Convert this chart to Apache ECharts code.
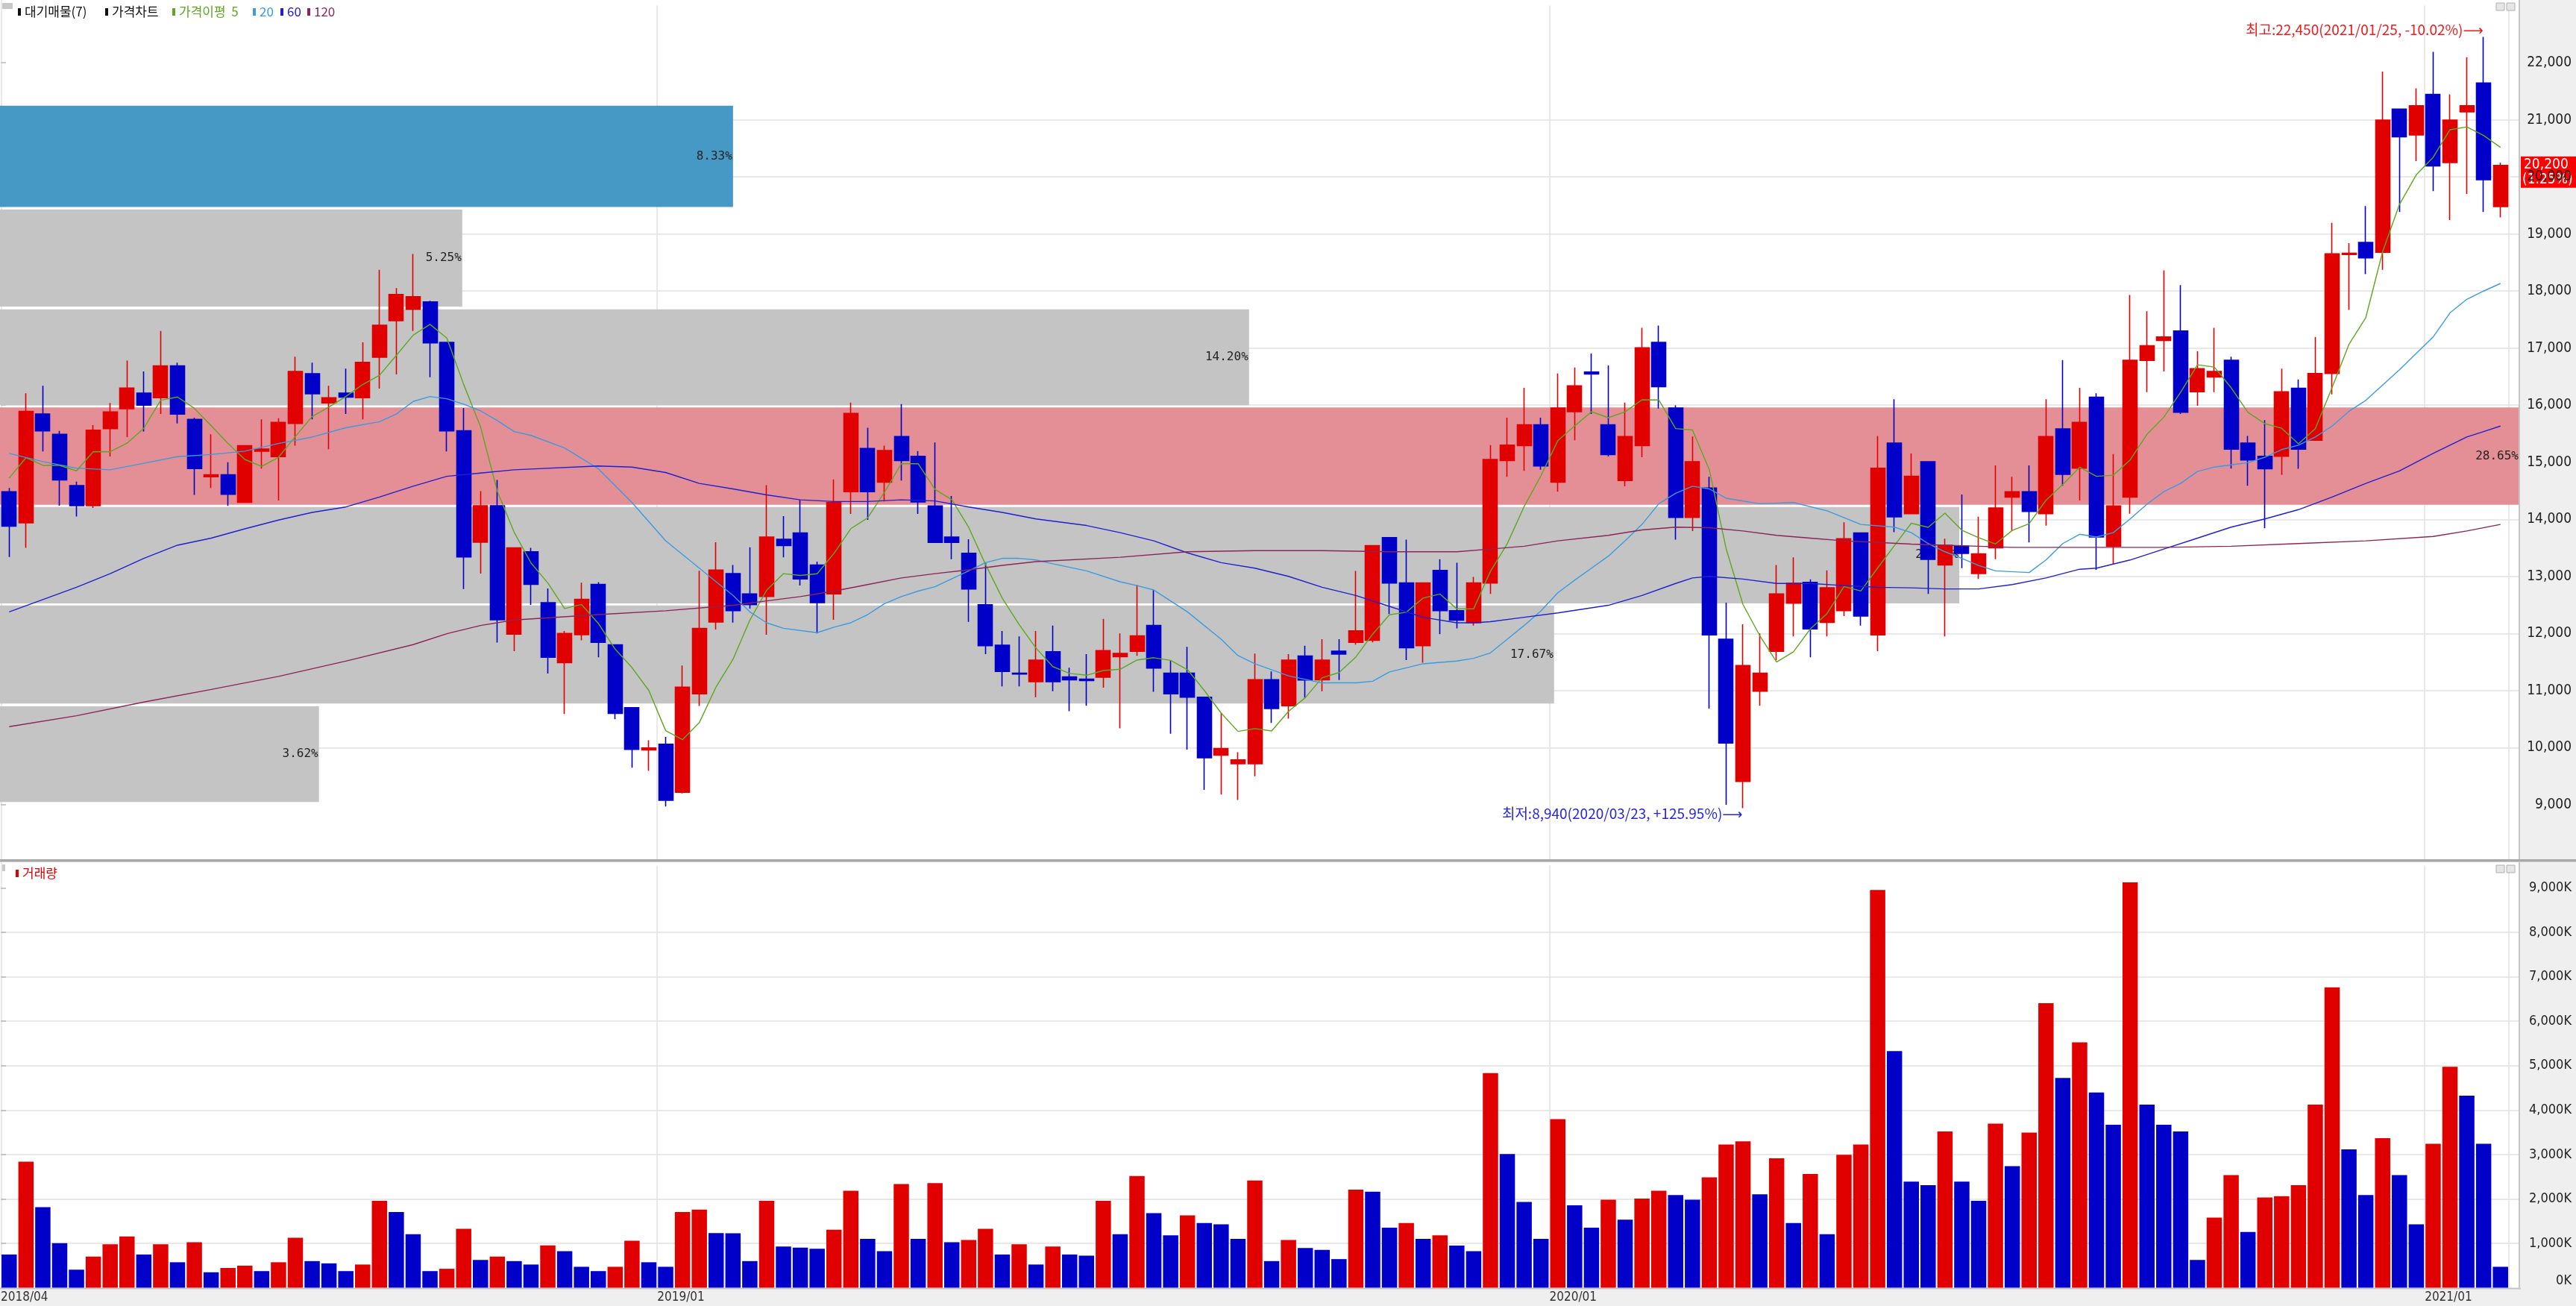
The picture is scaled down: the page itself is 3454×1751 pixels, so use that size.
<!DOCTYPE html>
<html>
<head>
<meta charset="utf-8">
<title>주간 가격차트</title>
<script src="https://cdn.jsdelivr.net/npm/echarts@6/dist/echarts.min.js"></script>
<style>
  html, body { margin: 0; padding: 0; background: #efefef; }
  #chart { width: 3454px; height: 1751px; }
</style>
</head>
<body>
<div id="chart"></div>
<script>
// ---- weekly categories (first trading day of each week) ----
const firstWeek = [2018, 4, 2];
const weekCount = 149;
const holidayShift = { '2018/12/31': '2019/01/02' };

// ---- weekly OHLC ----
const open = [14485,13940,15845,15490,14590,14240,15590,15940,16210,16130,16690,15750,14745,14780,14300,15195,15100,15680,16550,16040,16210,16130,16840,17480,17680,17810,17100,15550,13600,14240,
  11990,13430,12540,11490,11980,12860,11800,10700,9960,10060,9220,10945,12200,13050,12695,12650,13650,13760,13200,12695,14485,15240,14650,15450,15105,14235,13690,13405,12505,11795,
  11305,11155,11680,11240,11200,11235,11595,11690,12140,11305,11305,10885,9870,9720,9720,11190,10735,11605,11190,11690,11845,11880,13680,12885,11785,13105,12400,12190,12885,15030,
  15290,15655,14650,15885,16580,15655,14680,15290,17100,15950,14035,14550,11900,9410,10990,11690,12530,12895,12195,12400,13760,11975,15335,14100,15010,13200,13530,13050,13500,14390,
  14485,14100,15585,14895,16140,13530,14390,16785,17135,17300,16235,16495,16785,15335,15105,15105,16295,15385,16555,18640,18850,18680,21185,20735,21445,20250,21140,21645,19480];
const close = [13880,15890,15550,14690,14240,15560,15880,16300,16000,16690,15845,14890,14780,14440,15290,15230,15700,16590,16200,16130,16140,16750,17400,17940,17900,17090,15550,13340,14240,12240,
  13500,12860,11585,12000,12600,11845,10600,9970,9995,9080,11060,12090,13110,12400,12505,13690,13540,12955,12540,14295,15855,14485,15205,15030,14305,13595,13595,12780,11785,11335,
  11290,11535,11155,11190,11175,11700,11650,11960,11395,10945,10885,9825,9985,9785,11190,10685,11535,11185,11535,11640,12045,13540,12885,11750,12885,12400,12235,12885,15050,15300,
  15655,14935,15950,16340,16545,15135,15450,17005,16325,14035,15010,11975,10080,11440,11305,12695,12880,12080,12800,13660,12305,14895,14045,14755,13300,13545,13405,13395,14200,14485,
  14140,15450,14790,15700,13690,14235,16785,17040,17195,15875,16640,16590,15230,15040,14885,16235,15230,16555,18650,18660,18580,20995,20700,21245,20190,20995,21245,19950,20200];
const low = [13340,13500,15190,14240,14050,14200,15100,15440,15540,15845,15680,14430,14550,14236,14300,14890,14330,15290,15750,15230,15845,15750,16290,16540,17300,16490,15190,12780,13050,11840,
  11690,12500,11300,10590,11880,11585,10500,9650,9595,8970,9200,10730,12070,12190,12435,11980,13335,12840,12000,12240,14095,13990,14315,14680,14095,13590,13300,12205,11640,11075,
  11075,10885,10990,10640,10733,11050,10340,11610,10980,10245,9965,9260,9180,9085,9500,10435,10510,10875,10990,11185,11805,11845,12340,11535,11490,11990,12090,12140,12695,14745,
  14850,14870,14485,15385,15845,15100,14580,15090,15940,13645,13795,10685,9000,8940,10735,11535,11950,11585,11950,12305,12140,11690,13775,14100,12695,11950,13145,12955,13300,13795,
  13595,13890,14590,14330,13115,13210,14100,16230,16590,15845,15990,16230,14890,14590,13845,14780,14885,15380,16190,17670,18295,18370,19385,20275,19750,19245,19700,19385,19290];
const high = [14550,16210,16340,15550,14660,15650,16040,16780,16590,17300,16745,15780,15490,15000,15300,15750,15770,16850,16745,16340,16640,17100,18370,18050,18650,17830,17100,15950,14495,14690,
  13500,13500,12790,12045,12890,12900,11800,10700,10130,10190,11440,13100,13600,13200,13510,14600,14055,14340,13260,14700,16045,15605,15290,16020,15195,15345,14410,13650,13240,12045,
  11950,12045,12140,11400,11640,12255,12000,12850,12760,11520,11765,10890,10610,9920,11650,11335,11640,11785,11900,11900,13095,13540,13680,13645,12890,13300,13240,12990,15300,15780,
  16305,15780,16555,16660,16905,16695,16045,17355,17395,15995,15450,14745,12540,12160,12000,13200,13335,12950,13105,13950,13760,15460,16105,15155,15015,13660,14435,14045,14945,14745,
  14945,16105,16790,16305,16210,15145,17930,17645,18360,18105,16945,17355,16850,15460,15740,16640,16450,17195,19195,18840,19490,21845,21190,21550,22190,21445,22095,22450,20250];

// ---- weekly volume (thousand shares) ----
const volume = [752,2841,1819,1009,411,707,983,1157,752,983,578,1028,353,450,501,379,578,1131,604,553,379,527,1960,1710,1208,379,431,1330,630,707,
  604,527,958,829,476,379,476,1060,578,476,1710,1761,1234,1230,604,1960,932,906,880,1311,2185,1105,829,2339,1105,2359,1028,1080,1330,752,
  983,527,932,752,726,1960,1208,2519,1684,1183,1632,1459,1433,1105,2416,604,1080,900,855,649,2211,2166,1356,1459,1105,1183,951,829,4833,3014,
  1934,1105,3798,1857,1356,1986,1536,2012,2185,2089,1986,2487,3226,3297,2108,2918,1459,2564,1208,2995,3226,8952,5328,2391,2314,3522,2391,1960,3695,2738,
  3496,6407,4724,5527,4396,3670,9126,4126,3670,3522,630,1581,2539,1260,2037,2063,2314,4126,6761,3117,2089,3368,2539,1433,3245,4974,4325,3245,476];

// ---- moving averages ----
const ma5Head = [14724, 15079, 14945, 14945];
const ma20Pts = [[0,15155],[2,15012],[4,14897],[6,14868],[8,14983],[10,15098],[12,15136],[14,15194],[16,15328],[18,15442],[20,15605],[22,15711],[23,15845],[24,16065],[25,16151],[26,16113],[27,16017],[28,15902],[29,15730],[30,15538],
  [31,15471],[33,15251],[35,14887],[37,14294],[39,13624],[41,13145],[43,12667],[44,12379],[45,12188],[46,12092],[48,12015],[49,12111],[50,12188],[51,12331],[52,12523],[53,12647],[54,12743],[55,12819],[57,13097],[58,13241],[59,13317],[60,13317],[61,13288],
  [62,13221],[64,13097],[66,12906],[67,12839],[68,12762],[70,12379],[72,11900],[73,11613],[74,11470],[76,11259],[78,11135],[80,11135],[81,11164],[82,11327],[84,11470],[86,11518],[87,11566],[88,11661],[89,11900],[90,12140],[91,12398],[92,12714],
  [93,12934],[94,13145],[95,13355],[96,13624],[97,13911],[98,14274],[99,14456],[100,14581],[101,14533],[102,14370],[104,14274],[106,14294],[108,14150],[110,13911],[112,13863],[113,13767],[114,13576],[115,13432],[116,13317],[117,13193],[118,13097],[120,13068],[121,13288],[122,13576],[123,13739],
  [124,13691],[125,13767],[126,14007],[127,14266],[128,14485],[129,14629],[130,14839],[131,14916],[132,14954],[133,14992],[134,15088],[135,15222],[136,15299],[137,15442],[138,15634],[139,15893],[140,16084],[141,16352],[142,16620],[143,16907],[144,17194],[145,17616],[146,17855],[147,17999],[148,18133]];
const ma60Pts = [[0,12379],[4,12810],[6,13049],[8,13317],[10,13547],[12,13671],[14,13834],[16,13987],[18,14121],[20,14217],[22,14390],[24,14581],[26,14753],[28,14811],[30,14868],
  [35,14935],[37,14916],[39,14821],[41,14629],[43,14533],[45,14428],[47,14342],[49,14313],[51,14313],[53,14342],[55,14322],[57,14217],[59,14121],[61,14007],
  [64,13892],[66,13767],[68,13624],[70,13413],[72,13241],[74,13145],[76,13001],[78,12810],[80,12667],[82,12475],[84,12284],[86,12188],[87,12188],[88,12207],[90,12284],[92,12360],
  [95,12494],[97,12667],[99,12877],[100,12973],[101,13001],[103,12954],[105,12877],[107,12877],[109,12839],[111,12810],[113,12800],[115,12781],[117,12781],[119,12858],[121,12973],[123,13126],
  [124,13145],[126,13288],[128,13480],[130,13671],[132,13863],[134,14007],[136,14170],[138,14390],[140,14629],[142,14849],[144,15155],[146,15442],[147,15538],[148,15634]];
const ma120Pts = [[0,10369],[4,10560],[8,10800],[12,11020],[16,11249],[20,11517],[24,11805],[26,11996],[28,12140],[30,12236],[35,12331],[39,12398],[43,12494],[45,12571],[47,12647],[49,12743],[51,12858],[53,12973],[55,13049],[57,13116],[59,13193],[61,13260],
  [66,13336],[70,13432],[74,13451],[78,13451],[82,13432],[86,13432],[88,13480],[90,13528],[92,13624],[95,13719],[97,13815],[99,13863],[101,13853],[103,13796],[105,13719],[107,13671],[109,13624],[111,13595],[113,13566],[115,13547],[117,13528],[119,13509],[123,13509],
  [128,13509],[132,13528],[136,13576],[140,13624],[144,13700],[146,13796],[148,13911]];

// ---- volume-at-price bands (대기매물) ----
const bandLow  = [9048, 10774, 12529, 14256, 16000, 17727, 19473];
const bandHigh = [10725, 12491, 14217, 15961, 17680, 19425, 21247];
const bandPct  = [3.62, 17.67, 22.28, 28.65, 14.20, 5.25, 8.33];

// ---- axis ticks ----
const priceTicks = [9000,10000,11000,12000,13000,14000,15000,16000,17000,18000,19000,20000,21000,22000];
const volumeTicks = [0,1000,2000,3000,4000,5000,6000,7000,8000,9000];

// ---- styling ----
const UP = '#e00000', DOWN = '#0000c8';
const MA_COLORS = { ma5: '#5ca81e', ma20: '#3a9be0', ma60: '#2020d0', ma120: '#8c2456' };
const NARROW = "'Liberation Sans Narrow','DejaVu Sans Condensed','Liberation Sans',sans-serif";
const KR = "'Noto Sans CJK KR','DejaVu Sans',sans-serif";
const MONO = "'DejaVu Sans Mono','Liberation Mono',monospace";

function pad2(n) { return String(n).padStart(2, '0'); }
function buildDates() {
  const out = [];
  const base = Date.UTC(firstWeek[0], firstWeek[1] - 1, firstWeek[2]);
  for (let i = 0; i < weekCount; i++) {
    const t = new Date(base + i * 7 * 86400000);
    const s = t.getUTCFullYear() + '/' + pad2(t.getUTCMonth() + 1) + '/' + pad2(t.getUTCDate());
    out.push(holidayShift[s] || s);
  }
  return out;
}
const dates = buildDates();
const yearStarts = dates.map((d, i) => (i === 0 || d.slice(0, 4) !== dates[i - 1].slice(0, 4)) ? i : -1).filter(i => i >= 0);
const yearLineSet = new Set(yearStarts.filter(i => i > 0));

const candles = dates.map((_, i) => [open[i], close[i], low[i], high[i]]);
const ma5 = close.map((_, i) => {
  if (i < 4) return ma5Head[i];
  let s = 0; for (let k = i - 4; k <= i; k++) s += close[k];
  return Math.round(s / 5);
});
const volData = volume.map((v, i) => ({
  value: v,
  itemStyle: { color: (i > 0 && v > volume[i - 1]) ? UP : DOWN }
}));

const lastClose = close[close.length - 1];
const prevClose = close[close.length - 2];
const maxHigh = Math.max(...high), maxIdx = high.indexOf(maxHigh);
const minLow = Math.min(...low), minIdx = low.indexOf(minLow);
const fmt = v => v.toLocaleString('en-US');
const pctTxt = (a, b) => { const p = (a / b - 1) * 100; return (p >= 0 ? '+' : '') + p.toFixed(2) + '%'; };

const maxPct = Math.max(...bandPct);
const bandData = bandPct.map((p, i) => {
  let color = '#c4c4c4';
  if (p === maxPct) color = '#e48f96';
  else if (lastClose >= bandLow[i] && lastClose <= bandHigh[i]) color = '#4799c5';
  return { value: [p, bandLow[i], bandHigh[i]], itemStyle: { color } };
});

const chart = echarts.init(document.getElementById('chart'), null, { renderer: 'canvas', width: 3454, height: 1751 });

const gridBase = { containLabel: false, outerBoundsMode: 'none', show: false };
const hidden = { show: false };
const splitColor = '#e2e2e2';

const option = {
  animation: false,
  backgroundColor: '#efefef',
  grid: [
    Object.assign({ left: 1, top: 7.5, width: 3363, height: 1148 }, gridBase),
    Object.assign({ left: 1, top: 7.5, width: 3377, height: 1148 }, gridBase),
    Object.assign({ left: 1, top: 1160.6, width: 3363, height: 566.2 }, gridBase),
    Object.assign({ left: 1, top: 1160.6, width: 3377, height: 566.2 }, gridBase)
  ],
  xAxis: [
    { type: 'category', gridIndex: 0, data: dates, boundaryGap: true,
      axisLine: hidden, axisTick: hidden, axisLabel: hidden,
      splitLine: { show: true, interval: (idx) => yearLineSet.has(idx), lineStyle: { color: splitColor, width: 1.5 } } },
    { type: 'value', gridIndex: 1, min: 0, max: maxPct, show: false },
    { type: 'category', gridIndex: 2, data: dates, boundaryGap: true,
      axisLine: hidden, axisTick: hidden, axisLabel: hidden,
      splitLine: { show: true, interval: (idx) => yearLineSet.has(idx), lineStyle: { color: splitColor, width: 1.5 } } },
    { type: 'value', gridIndex: 2, min: -0.5, max: weekCount - 0.5, position: 'bottom',
      axisLine: hidden, axisTick: hidden, splitLine: hidden,
      axisLabel: {
        show: true, customValues: yearStarts.map(i => i - 0.5),
        formatter: (v) => { const d = dates[Math.round(v + 0.5)] || ''; return d.slice(0, 7); },
        align: 'left', margin: 4, fontSize: 17, color: '#333', fontFamily: NARROW
      } },
    { type: 'value', gridIndex: 3, min: 0, max: 1, show: false }
  ],
  yAxis: [
    { type: 'value', gridIndex: 0, min: 8000, max: 23000, show: false },
    { type: 'value', gridIndex: 1, min: 8000, max: 23000, interval: 1000, position: 'right',
      axisLine: { show: false },
      axisTick: { show: true, inside: false, length: 7, customValues: priceTicks, lineStyle: { color: '#b8b8b8', width: 1.5 } },
      splitLine: { show: true, showMinLine: false, showMaxLine: false, lineStyle: { color: splitColor, width: 1.5 } },
      axisLabel: { show: true, customValues: priceTicks, formatter: v => fmt(v), align: 'right', margin: 70,
        fontSize: 19, color: '#222', fontFamily: NARROW } },
    { type: 'value', gridIndex: 2, min: 0, max: 9500, show: false },
    { type: 'value', gridIndex: 3, min: 0, max: 9500, interval: 1000, position: 'right',
      axisLine: { show: false },
      axisTick: { show: true, inside: false, length: 7, customValues: volumeTicks, lineStyle: { color: '#b8b8b8', width: 1.5 } },
      splitLine: { show: true, showMinLine: false, showMaxLine: false, lineStyle: { color: splitColor, width: 1.5 } },
      axisLabel: { show: true, customValues: volumeTicks, formatter: v => fmt(v) + 'K', align: 'right', margin: 70,
        verticalAlignMinLabel: 'bottom', fontSize: 18, color: '#222', fontFamily: NARROW } }
  ],
  series: [
    {
      name: '대기매물', type: 'custom', xAxisIndex: 1, yAxisIndex: 1, z: 1, silent: true,
      data: bandData,
      renderItem: (params, api) => {
        const pct = api.value(0), lo = api.value(1), hi = api.value(2);
        const p0 = api.coord([0, hi]);
        const p1 = api.coord([pct, lo]);
        const x0 = p0[0] - 1, y0 = p0[1], x1 = p1[0], y1 = p1[1];
        return {
          type: 'group',
          children: [
            { type: 'rect', shape: { x: x0, y: y0, width: x1 - x0, height: y1 - y0 },
              style: { fill: api.visual('color') } },
            { type: 'text', style: { text: pct.toFixed(2) + '%', x: x1 - 1, y: (y0 + y1) / 2,
              align: 'right', verticalAlign: 'middle', fontSize: 16, fontFamily: MONO, fill: '#222' } }
          ]
        };
      }
    },
    {
      name: '가격차트', type: 'candlestick', xAxisIndex: 0, yAxisIndex: 0, z: 3,
      data: candles, barWidth: 19.5,
      itemStyle: { color: UP, color0: DOWN, borderColor: UP, borderColor0: DOWN, borderWidth: 1.6 },
      markPoint: {
        symbol: 'circle', symbolSize: 1, silent: true,
        itemStyle: { color: 'rgba(0,0,0,0)' },
        data: [
          { coord: [dates[maxIdx], maxHigh],
            label: { show: true, position: 'left', distance: 0, offset: [0, -10],
              formatter: '최고:' + fmt(maxHigh) + '(' + dates[maxIdx] + ', ' + pctTxt(lastClose, maxHigh) + ')⟶',
              color: '#ee1c1c', fontSize: 19, fontFamily: KR } },
          { coord: [dates[minIdx], minLow],
            label: { show: true, position: 'left', distance: 0, offset: [0, 7],
              formatter: '최저:' + fmt(minLow) + '(' + dates[minIdx] + ', ' + pctTxt(lastClose, minLow) + ')⟶',
              color: '#2626dd', fontSize: 19, fontFamily: KR } }
        ]
      }
    },
    { name: '이평5', type: 'line', xAxisIndex: 0, yAxisIndex: 0, z: 4, data: ma5, symbol: 'none',
      lineStyle: { color: MA_COLORS.ma5, width: 1.4 } },
    { name: '이평20', type: 'line', xAxisIndex: 0, yAxisIndex: 0, z: 4, data: ma20Pts, symbol: 'none',
      lineStyle: { color: MA_COLORS.ma20, width: 1.4 } },
    { name: '이평60', type: 'line', xAxisIndex: 0, yAxisIndex: 0, z: 4, data: ma60Pts, symbol: 'none',
      lineStyle: { color: MA_COLORS.ma60, width: 1.4 } },
    { name: '이평120', type: 'line', xAxisIndex: 0, yAxisIndex: 0, z: 4, data: ma120Pts, symbol: 'none',
      lineStyle: { color: MA_COLORS.ma120, width: 1.4 } },
    { name: '거래량', type: 'bar', xAxisIndex: 2, yAxisIndex: 2, z: 3, data: volData, barWidth: 20.5 }
  ]
};

chart.setOption(option);

// ---- frame, legends and current price tag ----
const yLast = chart.convertToPixel({ yAxisIndex: 1 }, lastClose);
const chg = ((lastClose / prevClose - 1) * 100).toFixed(2);

function legendItems(items, y) {
  const out = [];
  items.forEach(it => {
    if (it.marker) out.push({ type: 'rect', shape: { x: it.x - 9, y: y - 5, width: 4, height: 10 }, style: { fill: it.color }, z: 50 });
    out.push({ type: 'text', x: it.x, y: y, style: { text: it.text, fill: it.color, fontSize: 17, fontFamily: KR, verticalAlign: 'middle' }, z: 50 });
  });
  return out;
}

const graphics = [
  // pane backgrounds
  { type: 'rect', z: -10, shape: { x: 0, y: 0, width: 3378, height: 1152 }, style: { fill: '#fff' } },
  { type: 'rect', z: -10, shape: { x: 0, y: 1156, width: 3378, height: 571 }, style: { fill: '#fff' } },
  { type: 'line', z: -9, shape: { x1: 2, y1: 0, x2: 2, y2: 1727 }, style: { stroke: '#e2e2e2', lineWidth: 1.5 } },
  // pane separator and bottom rule
  { type: 'rect', z: 40, shape: { x: 0, y: 1152, width: 3454, height: 3.5 }, style: { fill: '#a8a8a8' } },
  { type: 'line', z: 40, shape: { x1: 0, y1: 1727.5, x2: 3380, y2: 1727.5 }, style: { stroke: '#c4c4c4', lineWidth: 2 } },
  // axis rules
  { type: 'line', z: 40, shape: { x1: 3378, y1: 0, x2: 3378, y2: 1152 }, style: { stroke: '#c6c6c6', lineWidth: 2 } },
  { type: 'line', z: 40, shape: { x1: 3378, y1: 1156, x2: 3378, y2: 1728 }, style: { stroke: '#c6c6c6', lineWidth: 2 } },
  // pane corner buttons
  { type: 'rect', z: 40, shape: { x: 3347, y: 4, width: 11, height: 10 }, style: { fill: '#e6e6e6', stroke: '#b0b0b0', lineWidth: 1 } },
  { type: 'rect', z: 40, shape: { x: 3361, y: 4, width: 11, height: 10 }, style: { fill: '#e6e6e6', stroke: '#b0b0b0', lineWidth: 1 } },
  { type: 'rect', z: 40, shape: { x: 3347, y: 1160, width: 11, height: 10 }, style: { fill: '#e6e6e6', stroke: '#b0b0b0', lineWidth: 1 } },
  { type: 'rect', z: 40, shape: { x: 3361, y: 1160, width: 11, height: 10 }, style: { fill: '#e6e6e6', stroke: '#b0b0b0', lineWidth: 1 } },
  // legend handles
  { type: 'rect', z: 50, shape: { x: 3, y: 4, width: 14, height: 8 }, style: { fill: '#c8c8c8' } },
  { type: 'rect', z: 50, shape: { x: 3, y: 1159, width: 4, height: 9 }, style: { fill: '#c8c8c8' } }
].concat(
  legendItems([
    { x: 33, text: '대기매물(7)', color: '#111', marker: true },
    { x: 150, text: '가격차트', color: '#111', marker: true },
    { x: 240, text: '가격이평  5', color: MA_COLORS.ma5, marker: true },
    { x: 348, text: '20', color: MA_COLORS.ma20, marker: true },
    { x: 385, text: '60', color: MA_COLORS.ma60, marker: true },
    { x: 421, text: '120', color: MA_COLORS.ma120, marker: true }
  ], 16),
  legendItems([{ x: 30, text: '거래량', color: '#e00000', marker: true }], 1171),
  [{
    type: 'group', z: 60,
    children: [
      { type: 'rect', shape: { x: 3380, y: yLast - 12, width: 74, height: 42 }, style: { fill: '#ff0000' } },
      { type: 'text', x: 3384, y: yLast - 1, style: { text: fmt(lastClose), fill: '#fff', fontSize: 19, fontFamily: NARROW, verticalAlign: 'middle' } },
      { type: 'text', x: 3382, y: yLast + 19, style: { text: '(' + chg + '%)', fill: '#fff', fontSize: 19, fontFamily: NARROW, verticalAlign: 'middle' } }
    ]
  }]
);

chart.setOption({ graphic: graphics });
</script>
</body>
</html>
